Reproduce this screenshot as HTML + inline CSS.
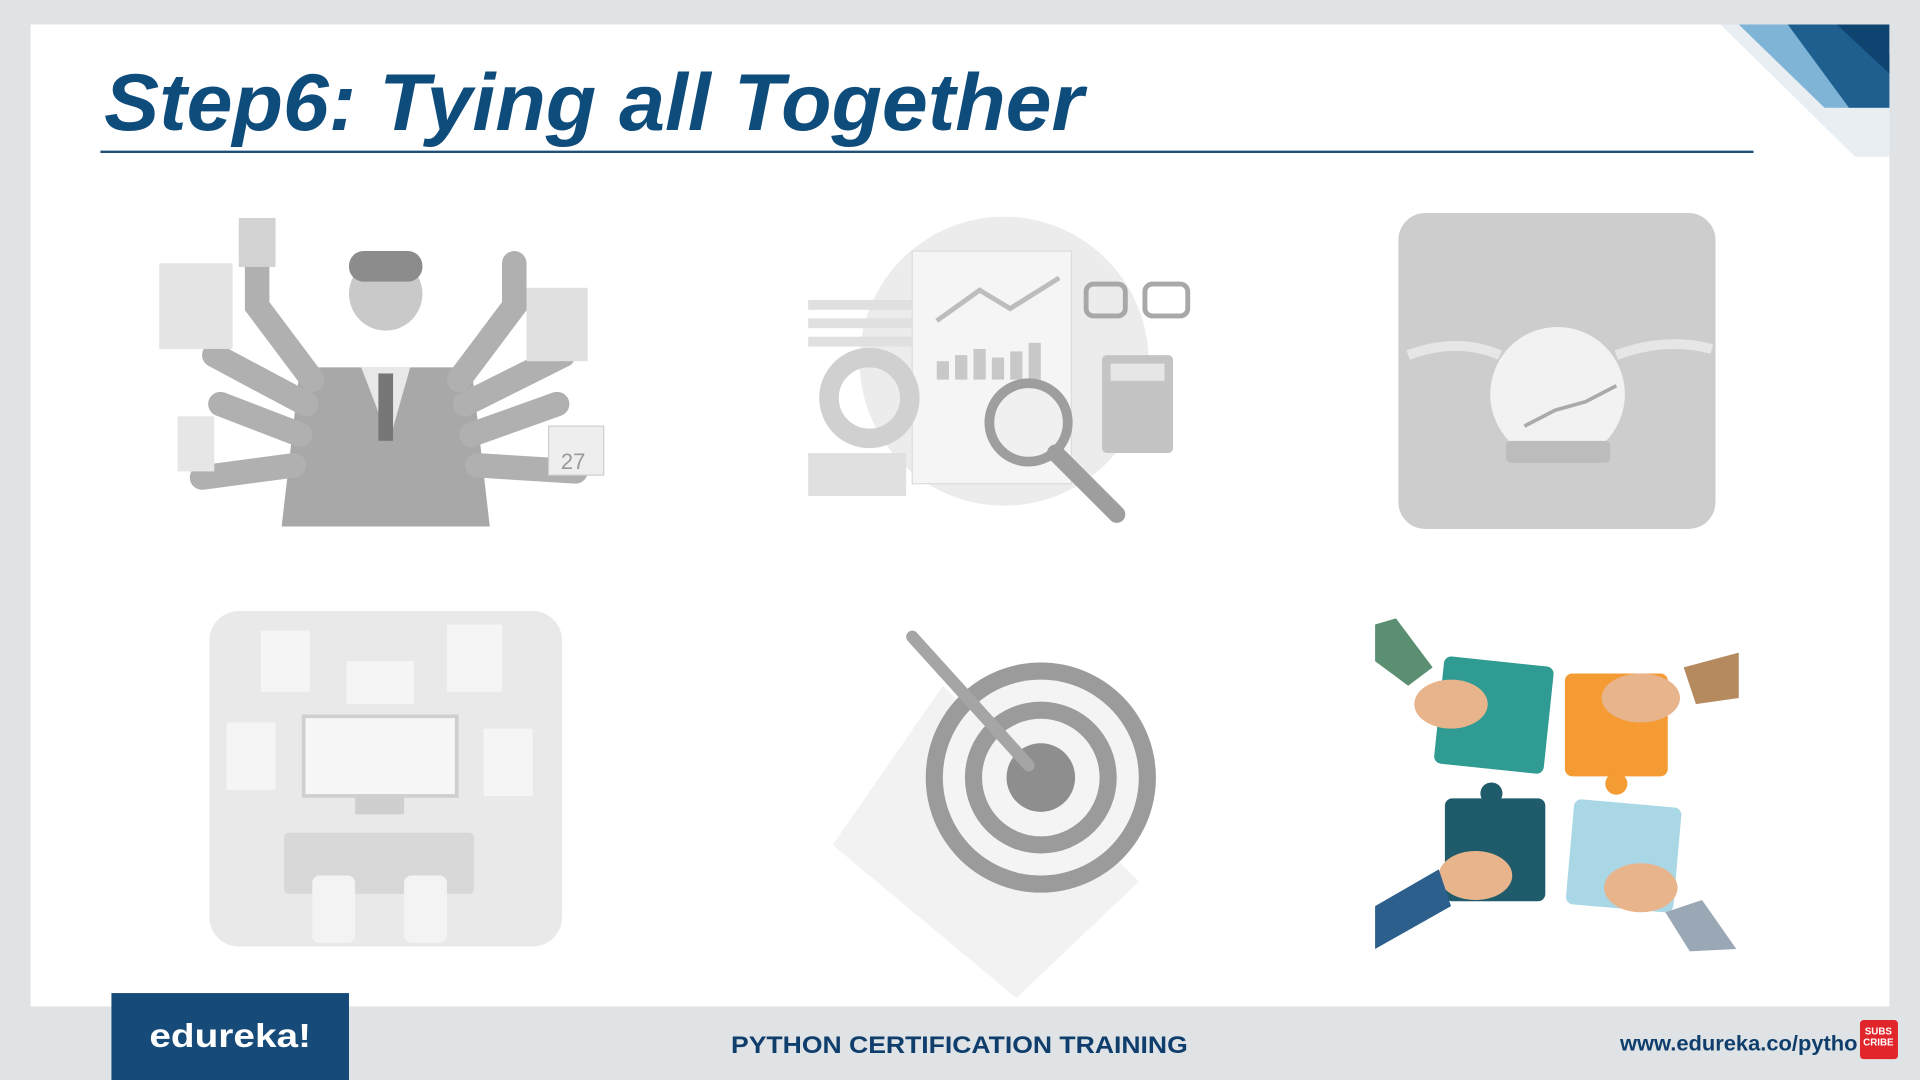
<!DOCTYPE html>
<html><head><meta charset="utf-8"><style>
html,body{margin:0;padding:0;width:1920px;height:1080px;overflow:hidden;background:#dfe3e5}
svg{display:block}
text{font-family:"Liberation Sans",sans-serif}
</style></head><body>
<svg width="1920" height="1080" viewBox="0 0 1568 882" preserveAspectRatio="none">
<rect width="1568" height="882" fill="#dfe3e5"/>
<rect x="25" y="20" width="1518" height="802" fill="#ffffff"/>
<g>
<polygon points="1405,20 1543,20 1543,128 1515,128" fill="#e8eef2"/>
<polygon points="1420,20 1520,20 1543,45 1543,88 1490,88" fill="#7fb4d6"/>
<polygon points="1460,20 1520,20 1543,45 1543,88 1510,88" fill="#1e5f8f"/>
<polygon points="1500,20 1543,20 1543,60" fill="#0f4470"/>
</g>
<text x="85" y="106" font-size="66" font-weight="bold" font-style="italic" fill="#0e4c7c" textLength="800" lengthAdjust="spacingAndGlyphs">Step6: Tying all Together</text>
<line x1="82" y1="124" x2="1432" y2="124" stroke="#1d4f78" stroke-width="2"/>

<g fill="#bdbdbd">
<circle cx="315" cy="240" r="30" fill="#c9c9c9"/>
<rect x="285" y="205" width="60" height="25" rx="12" fill="#8c8c8c"/>
<polygon points="245,300 385,300 400,430 230,430" fill="#a8a8a8"/>
<polygon points="295,300 335,300 318,360" fill="#e8e8e8"/>
<rect x="309" y="305" width="12" height="55" fill="#777"/>
<g stroke="#b0b0b0" stroke-width="20" stroke-linecap="round" fill="none">
<path d="M255,310 L210,250 L210,215"/><path d="M375,310 L420,250 L420,215"/>
<path d="M250,330 L175,290"/><path d="M380,330 L460,290"/>
<path d="M245,355 L180,330"/><path d="M385,355 L455,330"/>
<path d="M240,380 L165,390"/><path d="M390,380 L470,385"/>
</g>
<rect x="130" y="215" width="60" height="70" fill="#e4e4e4"/>
<rect x="195" y="178" width="30" height="40" fill="#d2d2d2"/>
<rect x="430" y="235" width="50" height="60" fill="#e0e0e0"/>
<rect x="448" y="348" width="45" height="40" fill="#eeeeee" stroke="#cfcfcf"/>
<text x="458" y="383" font-size="18" fill="#999">27</text>
<rect x="145" y="340" width="30" height="45" fill="#e6e6e6"/>
</g>

<g>
<circle cx="820" cy="295" r="118" fill="#ececec"/>
<rect x="745" y="205" width="130" height="190" fill="#f5f5f5" stroke="#dcdcdc"/>
<polyline points="765,262 800,237 825,252 865,227" fill="none" stroke="#bdbdbd" stroke-width="4"/>
<g fill="#c8c8c8"><rect x="765" y="295" width="10" height="15"/><rect x="780" y="290" width="10" height="20"/><rect x="795" y="285" width="10" height="25"/><rect x="810" y="292" width="10" height="18"/><rect x="825" y="287" width="10" height="23"/><rect x="840" y="280" width="10" height="30"/></g>
<circle cx="710" cy="325" r="33" fill="none" stroke="#d0d0d0" stroke-width="16"/>
<g fill="#e0e0e0"><rect x="660" y="245" width="85" height="8"/><rect x="660" y="260" width="85" height="8"/><rect x="660" y="275" width="85" height="8"/><rect x="660" y="370" width="80" height="35"/></g>
<circle cx="840" cy="345" r="32" fill="#f0f0f0" stroke="#9e9e9e" stroke-width="8"/>
<line x1="862" y1="370" x2="912" y2="420" stroke="#9e9e9e" stroke-width="14" stroke-linecap="round"/>
<rect x="887" y="232" width="32" height="26" rx="6" fill="none" stroke="#a8a8a8" stroke-width="4"/>
<rect x="935" y="232" width="35" height="26" rx="6" fill="none" stroke="#a8a8a8" stroke-width="4"/>
<rect x="900" y="290" width="58" height="80" rx="4" fill="#c4c4c4"/>
<rect x="907" y="297" width="44" height="14" fill="#e6e6e6"/>
</g>

<g>
<rect x="1142" y="174" width="259" height="258" rx="22" fill="#cdcdcd"/>
<circle cx="1272" cy="322" r="55" fill="#f2f2f2"/>
<rect x="1230" y="360" width="85" height="18" rx="4" fill="#bcbcbc"/>
<path d="M1150,290 Q1190,275 1225,290" stroke="#e6e6e6" stroke-width="8" fill="none"/>
<path d="M1320,290 Q1360,275 1398,285" stroke="#e6e6e6" stroke-width="8" fill="none"/>
<polyline points="1245,348 1270,335 1295,328 1320,315" stroke="#aaa" stroke-width="3" fill="none"/>
</g>

<g>
<rect x="171" y="499" width="288" height="274" rx="24" fill="#e9e9e9"/>
<rect x="248" y="585" width="125" height="65" fill="#f7f7f7" stroke="#cfcfcf" stroke-width="3"/>
<rect x="290" y="650" width="40" height="15" fill="#cfcfcf"/>
<rect x="232" y="680" width="155" height="50" rx="4" fill="#d8d8d8"/>
<rect x="213" y="515" width="40" height="50" fill="#f5f5f5"/>
<rect x="283" y="540" width="55" height="35" fill="#f5f5f5"/>
<rect x="365" y="510" width="45" height="55" fill="#f5f5f5"/>
<rect x="185" y="590" width="40" height="55" fill="#f5f5f5"/>
<rect x="395" y="595" width="40" height="55" fill="#f5f5f5"/>
<rect x="255" y="715" width="35" height="55" rx="6" fill="#f3f3f3"/>
<rect x="330" y="715" width="35" height="55" rx="6" fill="#f3f3f3"/>
</g>

<g>
<polygon points="770,560 930,720 830,815 680,690" fill="#f2f2f2"/>
<circle cx="850" cy="635" r="94" fill="#9b9b9b"/>
<circle cx="850" cy="635" r="80" fill="#f4f4f4"/>
<circle cx="850" cy="635" r="62" fill="#9b9b9b"/>
<circle cx="850" cy="635" r="48" fill="#f4f4f4"/>
<circle cx="850" cy="635" r="28" fill="#8e8e8e"/>
<line x1="745" y1="520" x2="840" y2="625" stroke="#a5a5a5" stroke-width="10" stroke-linecap="round"/>
</g>

<g>
<rect x="1175" y="540" width="90" height="88" rx="6" fill="#2f9b93" transform="rotate(6 1220 584)"/>
<rect x="1278" y="550" width="84" height="84" rx="6" fill="#f49b34"/>
<circle cx="1320" cy="640" r="9" fill="#f49b34"/>
<rect x="1180" y="652" width="82" height="84" rx="6" fill="#1f5b6a"/>
<circle cx="1218" cy="648" r="9" fill="#1f5b6a"/>
<rect x="1282" y="656" width="88" height="86" rx="6" fill="#aad7e6" transform="rotate(5 1326 699)"/>
<g fill="#e8b48c"><ellipse cx="1185" cy="575" rx="30" ry="20"/><ellipse cx="1340" cy="570" rx="32" ry="20"/><ellipse cx="1205" cy="715" rx="30" ry="20"/><ellipse cx="1340" cy="725" rx="30" ry="20"/></g>
<polygon points="1123,510 1140,505 1170,545 1150,560 1123,540" fill="#5b8f72"/>
<polygon points="1375,545 1420,533 1420,570 1385,575" fill="#b58a5f"/>
<polygon points="1123,740 1175,710 1185,740 1123,775" fill="#2c5f8c"/>
<polygon points="1360,745 1390,735 1418,775 1380,777" fill="#9aa8b5"/>
</g>

<g>
<rect x="91" y="811" width="194" height="71" fill="#164a78"/>
<text x="188" y="855" font-size="27" font-weight="bold" fill="#ffffff" text-anchor="middle" textLength="132" lengthAdjust="spacingAndGlyphs">edureka!</text>
<text x="597" y="860" font-size="20" font-weight="bold" fill="#0f3e6c" textLength="373" lengthAdjust="spacingAndGlyphs">PYTHON CERTIFICATION TRAINING</text>
<text x="1323" y="858" font-size="17" font-weight="bold" fill="#0f3e6c" textLength="194" lengthAdjust="spacingAndGlyphs">www.edureka.co/pytho</text>
<g>
<rect x="1519" y="833" width="31" height="32" rx="3" fill="#e1262b"/>
<text x="1534" y="845" font-size="8" font-weight="bold" fill="#fff" text-anchor="middle">SUBS</text>
<text x="1534" y="854" font-size="8" font-weight="bold" fill="#fff" text-anchor="middle">CRIBE</text>
</g>
</g>
</svg>
</body></html>
